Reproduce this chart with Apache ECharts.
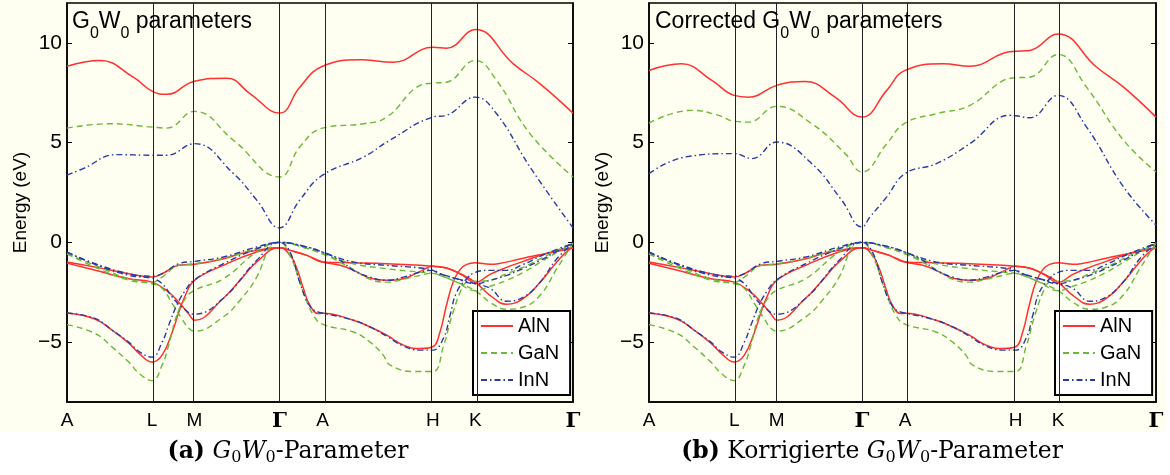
<!DOCTYPE html>
<html><head><meta charset="utf-8">
<script src="https://cdn.jsdelivr.net/npm/echarts@6/dist/echarts.min.js"></script>
<style>html,body{margin:0;padding:0;background:#fff}#c{width:1170px;height:475px}</style>
</head><body><div id="c"></div>
<script>
// ---- data ----
const kPoints = [0, 0.168, 0.252, 0.420, 0.505, 0.723, 0.807, 1.0];
const kLabels = ['A', 'L', 'M', 'Γ', 'A', 'H', 'K', 'Γ'];
const yTicks = [-5, 0, 5, 10];
const materials = ['AlN', 'GaN', 'InN'];

// conduction bands, panel (a) G0W0
const cbA_AlN = [[0,8.83],[0.065,9.12],[0.131,8.28],[0.168,7.58],[0.197,7.42],[0.252,8.08],[0.316,8.23],[0.362,7.45],[0.42,6.48],[0.46,7.78],[0.505,8.83],[0.579,9.15],[0.645,9.03],[0.723,9.78],[0.750,9.73],[0.807,10.67],[0.882,8.95],[0.935,7.95],[1,6.48]];
const cbA_GaN = [[0,5.73],[0.085,5.95],[0.168,5.78],[0.197,5.73],[0.252,6.57],[0.329,5.12],[0.42,3.28],[0.46,4.78],[0.505,5.73],[0.586,5.95],[0.632,6.28],[0.698,7.87],[0.723,7.98],[0.750,8.03],[0.807,9.12],[0.849,8.12],[0.915,5.45],[1,3.28]];
const cbA_InN = [[0,3.37],[0.032,3.7],[0.098,4.4],[0.168,4.37],[0.197,4.37],[0.252,4.95],[0.329,3.45],[0.375,2.12],[0.42,0.73],[0.46,2.12],[0.505,3.37],[0.586,4.28],[0.638,5.12],[0.723,6.28],[0.750,6.37],[0.807,7.28],[0.849,6.45],[0.915,3.78],[1,0.73]];
// conduction bands, panel (b) corrected G0W0
const cbB_AlN = [[0,8.62],[0.064,8.95],[0.124,8.12],[0.168,7.37],[0.196,7.28],[0.252,7.87],[0.308,8.07],[0.367,7.28],[0.42,6.28],[0.469,7.62],[0.505,8.62],[0.580,8.95],[0.633,8.83],[0.699,9.48],[0.723,9.58],[0.751,9.62],[0.807,10.45],[0.883,8.78],[0.936,7.78],[1,6.28]];
const cbB_GaN = [[0,5.98],[0.084,6.62],[0.137,6.37],[0.168,6.07],[0.196,6.03],[0.252,6.82],[0.321,5.95],[0.387,4.45],[0.42,3.53],[0.469,4.95],[0.505,5.98],[0.567,6.45],[0.633,6.87],[0.699,8.12],[0.723,8.25],[0.751,8.28],[0.807,9.42],[0.863,7.78],[0.936,5.12],[1,3.53]];
const cbB_InN = [[0,3.45],[0.071,4.28],[0.168,4.45],[0.203,4.2],[0.252,5.03],[0.321,3.95],[0.380,2.12],[0.42,0.78],[0.436,1.28],[0.469,2.28],[0.505,3.45],[0.567,3.95],[0.633,4.95],[0.712,6.37],[0.723,6.35],[0.751,6.25],[0.807,7.37],[0.863,5.78],[0.936,2.78],[1,0.87]];

// valence bands (both panels)
const vb_AlN_1 = [[0,-0.98],[0.056,-1.24],[0.122,-1.57],[0.168,-1.74],[0.188,-1.57],[0.221,-1.15],[0.252,-1.10],[0.309,-0.82],[0.342,-0.57],[0.375,-0.40],[0.42,-0.27],[0.441,-0.40],[0.474,-0.65],[0.505,-0.98],[0.566,-1.02],[0.632,-1.07],[0.698,-1.15],[0.723,-1.20],[0.750,-1.28],[0.777,-1.57],[0.807,-2.0],[0.836,-2.65],[0.869,-3.1],[0.902,-2.8],[0.935,-2.0],[0.968,-0.98],[0.994,-0.32],[1,-0.28]];
const vb_AlN_2 = [[0,-1.04],[0.056,-1.40],[0.122,-1.82],[0.168,-1.99],[0.201,-2.5],[0.221,-3.0],[0.241,-3.6],[0.252,-3.9],[0.309,-2.8],[0.342,-1.9],[0.375,-0.98],[0.42,-0.27],[0.441,-0.40],[0.474,-0.65],[0.505,-0.98],[0.540,-1.15],[0.566,-1.40],[0.599,-1.79],[0.632,-1.90],[0.665,-1.82],[0.698,-1.45],[0.723,-1.20],[0.750,-1.28],[0.777,-1.57],[0.807,-2.0],[0.836,-1.6],[0.869,-1.25],[0.902,-0.95],[0.935,-0.65],[0.968,-0.42],[1,-0.28]];
const vb_AlN_3 = [[0,-3.54],[0.056,-3.85],[0.089,-4.4],[0.122,-5.05],[0.144,-5.6],[0.168,-6.0],[0.188,-5.65],[0.208,-4.5],[0.221,-3.5],[0.234,-2.65],[0.252,-1.9],[0.309,-1.15],[0.375,-0.48],[0.42,-0.27],[0.441,-0.65],[0.454,-1.3],[0.467,-2.3],[0.480,-3.15],[0.497,-3.57],[0.505,-3.55],[0.566,-3.9],[0.599,-4.24],[0.632,-4.65],[0.665,-5.15],[0.698,-5.32],[0.723,-5.23],[0.737,-4.5],[0.750,-3.15],[0.763,-2.0],[0.777,-1.35],[0.790,-1.1],[0.807,-1.02],[0.836,-1.1],[0.852,-1.07],[0.902,-0.79],[0.935,-0.62],[0.968,-0.45],[1,-0.28]];

const vb_GaN_1 = [[0,-0.57],[0.056,-1.15],[0.122,-1.82],[0.168,-1.99],[0.188,-1.74],[0.221,-1.15],[0.252,-1.07],[0.309,-0.8],[0.375,-0.3],[0.42,0],[0.474,-0.3],[0.505,-0.57],[0.566,-1.07],[0.632,-1.32],[0.698,-1.49],[0.723,-1.55],[0.737,-1.65],[0.770,-1.99],[0.807,-2.42],[0.836,-3.0],[0.869,-3.35],[0.902,-3.24],[0.935,-2.65],[0.968,-1.32],[1,-0.03]];
const vb_GaN_2 = [[0,-0.57],[0.056,-1.25],[0.122,-1.9],[0.168,-2.07],[0.188,-2.3],[0.208,-3.07],[0.227,-3.82],[0.241,-4.32],[0.252,-4.45],[0.309,-3.73],[0.342,-2.9],[0.375,-1.74],[0.40,-0.3],[0.42,0],[0.474,-0.3],[0.505,-0.57],[0.566,-1.35],[0.599,-1.85],[0.632,-1.99],[0.665,-1.85],[0.698,-1.65],[0.723,-1.55],[0.737,-1.65],[0.770,-1.99],[0.807,-2.42],[0.836,-2.2],[0.869,-1.9],[0.902,-1.5],[0.935,-1.0],[0.968,-0.5],[1,-0.03]];
const vb_GaN_3 = [[0,-4.12],[0.056,-4.57],[0.089,-5.24],[0.122,-6.0],[0.144,-6.6],[0.168,-6.93],[0.188,-6.15],[0.201,-5.15],[0.217,-3.65],[0.234,-2.82],[0.252,-2.4],[0.309,-1.82],[0.375,-0.48],[0.42,0],[0.441,-0.7],[0.454,-1.5],[0.467,-2.5],[0.487,-3.65],[0.505,-4.1],[0.566,-4.49],[0.599,-5.0],[0.625,-5.65],[0.638,-6.14],[0.684,-6.47],[0.723,-6.47],[0.744,-5.2],[0.757,-4.0],[0.763,-3.5],[0.777,-2.5],[0.790,-2.0],[0.807,-1.95],[0.836,-1.9],[0.869,-1.57],[0.902,-1.24],[0.935,-0.82],[0.968,-0.4],[1,-0.03]];

const vb_InN_1 = [[0,-0.49],[0.056,-1.07],[0.122,-1.57],[0.168,-1.69],[0.188,-1.57],[0.221,-1.07],[0.252,-0.95],[0.309,-0.73],[0.375,-0.23],[0.42,0],[0.474,-0.23],[0.505,-0.49],[0.566,-0.98],[0.632,-1.15],[0.698,-1.28],[0.723,-1.40],[0.737,-1.57],[0.770,-1.82],[0.807,-2.07],[0.836,-2.3],[0.869,-2.95],[0.902,-2.74],[0.935,-2.0],[0.968,-0.82],[1,-0.05]];
const vb_InN_2 = [[0,-0.49],[0.056,-1.1],[0.122,-1.65],[0.168,-1.8],[0.188,-2.07],[0.208,-2.74],[0.227,-3.24],[0.252,-3.6],[0.309,-2.8],[0.375,-0.9],[0.42,0],[0.474,-0.23],[0.505,-0.49],[0.540,-0.9],[0.566,-1.4],[0.599,-1.74],[0.632,-1.9],[0.665,-1.74],[0.698,-1.49],[0.723,-1.40],[0.737,-1.57],[0.770,-1.82],[0.807,-2.07],[0.836,-1.9],[0.869,-1.65],[0.902,-1.3],[0.935,-0.9],[0.968,-0.45],[1,-0.05]];
const vb_InN_3 = [[0,-3.54],[0.056,-3.82],[0.089,-4.4],[0.122,-5.0],[0.144,-5.5],[0.168,-5.75],[0.188,-5.0],[0.201,-4.15],[0.217,-3.15],[0.234,-2.4],[0.252,-1.87],[0.309,-1.07],[0.375,-0.32],[0.42,0],[0.441,-0.5],[0.46,-2.0],[0.480,-3.2],[0.497,-3.5],[0.505,-3.54],[0.566,-3.9],[0.599,-4.24],[0.632,-4.7],[0.665,-5.2],[0.698,-5.4],[0.723,-5.4],[0.744,-4.8],[0.757,-3.65],[0.770,-2.5],[0.790,-1.82],[0.807,-1.5],[0.836,-1.4],[0.869,-1.4],[0.902,-1.1],[0.935,-0.7],[0.968,-0.35],[1,-0.05]];

// ---- styles ----
const FONT = 'Liberation Sans';
const SERIF = 'DejaVu Serif';
const lineStyles = {
  AlN: {color: '#ff3030', width: 1.5, type: 'solid'},
  GaN: {color: '#6cb83a', width: 1.4, type: [6, 4]},
  InN: {color: '#2a3aa6', width: 1.4, type: [6, 3, 1.5, 3]}
};
const panels = [
  {cb: {AlN: cbA_AlN, GaN: cbA_GaN, InN: cbA_InN}},
  {cb: {AlN: cbB_AlN, GaN: cbB_GaN, InN: cbB_InN}}
];
const vb = {AlN: [vb_AlN_1, vb_AlN_2, vb_AlN_3], GaN: [vb_GaN_1, vb_GaN_2, vb_GaN_3], InN: [vb_InN_1, vb_InN_2, vb_InN_3]};

const grids = [
  {left: 67, top: 3, width: 506, height: 399},
  {left: 649, top: 3, width: 507, height: 399}
];

function labelFor(v) {
  let best = 0;
  kPoints.forEach((k, i) => { if (Math.abs(k - v) < Math.abs(kPoints[best] - v)) best = i; });
  const l = kLabels[best];
  return l === 'Γ' ? '{g|Γ}' : l;
}

const option = {
  animation: false,
  backgroundColor: '#ffffff',
  textStyle: {fontFamily: FONT},
  grid: grids.map(g => Object.assign({show: true, backgroundColor: '#fefef1', borderColor: '#000', borderWidth: 1.5}, g)),
  xAxis: grids.map((g, i) => ({
    type: 'value', gridIndex: i, min: 0, max: 1,
    axisLine: {show: true, onZero: false, lineStyle: {color: '#000', width: 1.5}},
    axisTick: {show: false},
    splitLine: {show: false},
    axisLabel: {customValues: kPoints, formatter: labelFor, color: '#000', fontSize: 19, fontFamily: FONT, margin: 9,
      rich: {g: {fontFamily: 'DejaVu Serif', fontSize: 21, fontWeight: 'bold', color: '#000'}}}
  })),
  yAxis: [],
  legend: [],
  series: [],
  graphic: []
};

grids.forEach((g, i) => {
  option.yAxis.push({
    type: 'value', gridIndex: i, min: -8, max: 12, position: 'left',
    name: 'Energy (eV)', nameLocation: 'middle', nameGap: 37,
    nameTextStyle: {fontSize: 19, color: '#000', fontFamily: FONT},
    axisLine: {show: true, onZero: false, lineStyle: {color: '#000', width: 1.5}},
    axisTick: {show: true, inside: true, length: 5, customValues: yTicks, lineStyle: {color: '#000'}},
    splitLine: {show: false},
    axisLabel: {customValues: yTicks, formatter: v => (v < 0 ? '\u2212' + (-v) : String(v)), color: '#000', fontSize: 21, fontFamily: FONT, margin: 5}
  });
  option.yAxis.push({
    type: 'value', gridIndex: i, min: -8, max: 12, position: 'right',
    axisLine: {show: true, onZero: false, lineStyle: {color: '#000', width: 1.5}},
    axisTick: {show: true, inside: true, length: 5, customValues: yTicks, lineStyle: {color: '#000'}},
    splitLine: {show: false},
    axisLabel: {show: false}
  });
  // vertical high-symmetry lines
  option.series.push({
    type: 'line', xAxisIndex: i, yAxisIndex: i * 2, data: [], silent: true, z: 1,
    markLine: {silent: true, symbol: ['none', 'none'], label: {show: false},
      lineStyle: {color: '#222', width: 1, type: 'solid'},
      data: kPoints.slice(1, -1).map(k => ({xAxis: k}))}
  });
  materials.forEach(m => {
    const bands = [panels[i].cb[m]].concat(vb[m]);
    bands.forEach(d => {
      option.series.push({
        type: 'line', name: m, xAxisIndex: i, yAxisIndex: i * 2, data: d,
        symbol: 'none', showSymbol: false, smooth: 0.45,
        lineStyle: lineStyles[m], itemStyle: {color: lineStyles[m].color}, color: lineStyles[m].color,
        silent: true, z: 3
      });
    });
  });
  option.legend.push({
    left: g.left + 406, top: 311, orient: 'vertical',
    data: materials, selectedMode: false,
    itemWidth: 32, itemHeight: 14, itemGap: 7, padding: [5, 11, 5, 7],
    backgroundColor: '#fff', borderColor: '#000', borderWidth: 2, borderRadius: 0,
    itemStyle: {opacity: 0},
    textStyle: {fontSize: 20, color: '#000', fontFamily: FONT, padding: [0, 0, 0, 0]},
    itemTextGap: 5
  });
});

const subRich = {
  m: {fontSize: 23, fontFamily: FONT, color: '#000', lineHeight: 23, verticalAlign: 'top'},
  s: {fontSize: 16, fontFamily: FONT, color: '#000', lineHeight: 48, verticalAlign: 'middle'}
};
option.graphic.push(
  {type: 'rect', z: -100, silent: true, shape: {x: 0, y: 0, width: 1166, height: 431}, style: {fill: '#fefef1'}},
  {type: 'text', z: 100, x: 72, y: 10, silent: true, style: {text: '{m|G}{s|0}{m|W}{s|0}{m| parameters}', rich: subRich}},
  {type: 'text', z: 100, x: 655, y: 10, silent: true, style: {text: '{m|Corrected G}{s|0}{m|W}{s|0}{m| parameters}', rich: subRich}}
);
const capRich = {
  b: {fontSize: 23.5, fontFamily: SERIF, fontWeight: 'bold', color: '#000', lineHeight: 25, verticalAlign: 'top'},
  r: {fontSize: 23.5, fontFamily: SERIF, color: '#000', lineHeight: 25, verticalAlign: 'top'},
  i: {fontSize: 23.5, fontFamily: SERIF, fontStyle: 'italic', color: '#000', lineHeight: 25, verticalAlign: 'top'},
  s: {fontSize: 16, fontFamily: SERIF, color: '#000', lineHeight: 36, verticalAlign: 'middle'}
};
option.graphic.push(
  {type: 'text', z: 100, x: 288, y: 440, silent: true, style: {text: '{b|(a)}{r| }{i|G}{s|0}{i|W}{s|0}{r|-Parameter}', rich: capRich, align: 'center'}},
  {type: 'text', z: 100, x: 872, y: 440, silent: true, style: {text: '{b|(b)}{r| Korrigierte }{i|G}{s|0}{i|W}{s|0}{r|-Parameter}', rich: capRich, align: 'center'}}
);

const chart = echarts.init(document.getElementById('c'), null, {renderer: 'canvas'});
chart.setOption(option);
</script>
</body></html>
